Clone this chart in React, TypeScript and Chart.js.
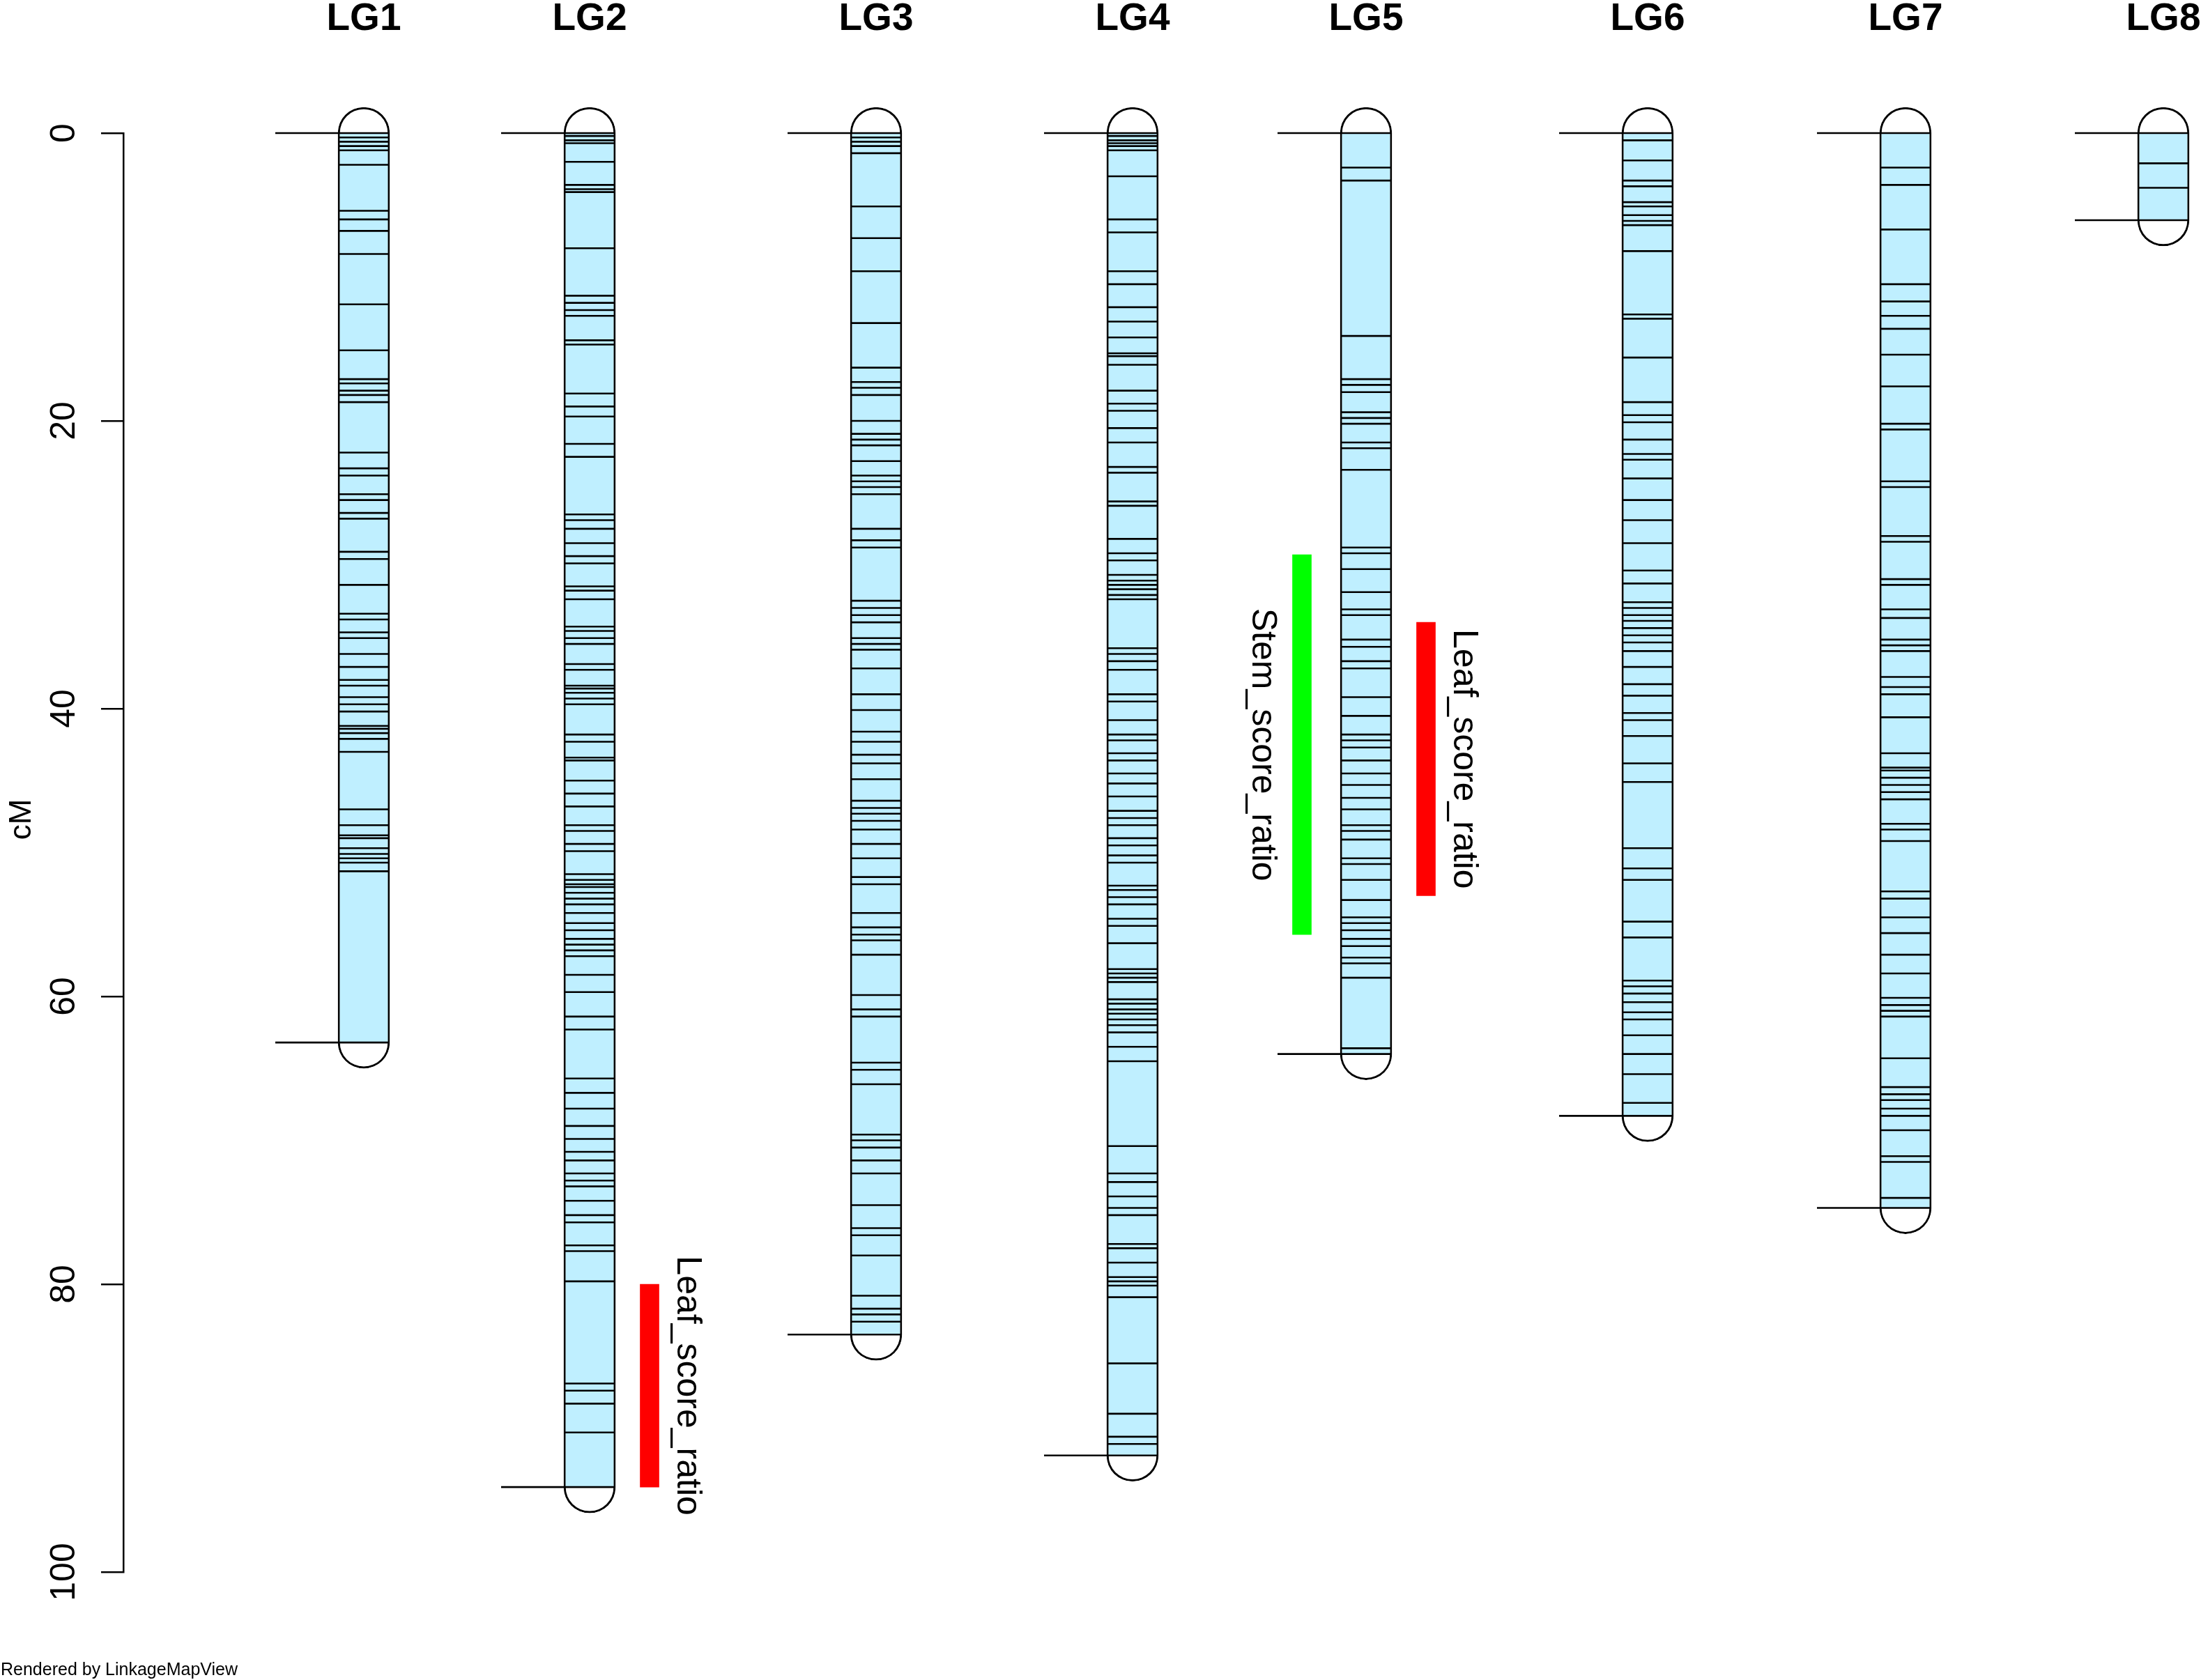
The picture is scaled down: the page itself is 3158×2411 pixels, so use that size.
import { useEffect, useRef } from 'react';
import { Chart, registerables } from 'chart.js';

Chart.register(...registerables);

// ---------------- data ----------------
const groupNames = ['LG1', 'LG2', 'LG3', 'LG4', 'LG5', 'LG6', 'LG7', 'LG8'];
// position of each linkage group along the (hidden) x axis
const groupPos = [3.45, 6.69, 10.8, 14.48, 17.83, 21.87, 25.57, 29.27];

const lg1Markers = [0, 0.3, 0.6, 0.9, 1.2, 2.2, 5.4, 6.0, 6.8, 8.4, 11.9, 15.1, 17.1, 17.4, 17.9, 18.2, 18.7, 22.2, 23.3, 23.8, 25.1, 25.5, 26.4, 26.8, 29.1, 29.6, 31.4, 33.4, 33.8, 34.7, 35.1, 36.2, 37.1, 38.0, 38.4, 39.2, 39.7, 40.2, 41.2, 41.4, 41.7, 42.1, 43.0, 47.0, 48.1, 48.8, 49.0, 49.7, 50.1, 50.4, 50.7, 51.3, 63.2];
const lg2Markers = [0, 0.2, 0.5, 0.7, 2.0, 3.6, 3.9, 4.1, 8.0, 11.3, 11.8, 12.3, 12.7, 14.4, 14.7, 18.1, 19.0, 19.7, 21.6, 22.5, 26.5, 26.9, 27.5, 28.5, 29.4, 29.9, 31.5, 31.8, 32.4, 34.3, 34.6, 35.1, 35.5, 36.9, 37.3, 38.4, 38.6, 38.9, 39.3, 39.7, 41.8, 42.3, 43.4, 43.6, 45.0, 45.9, 46.8, 48.1, 48.5, 49.4, 49.9, 51.5, 51.9, 52.2, 52.4, 52.8, 53.2, 53.6, 54.2, 54.9, 55.4, 56.0, 56.4, 56.8, 57.2, 58.5, 59.7, 61.4, 62.3, 65.7, 66.7, 67.8, 69.0, 69.9, 70.8, 71.4, 72.3, 72.8, 73.2, 74.2, 75.2, 75.7, 77.3, 77.7, 79.8, 86.9, 87.4, 88.3, 90.3, 94.1];
const lg3Markers = [0, 0.3, 0.6, 0.9, 1.4, 5.1, 7.3, 9.6, 13.2, 16.3, 17.3, 17.7, 18.2, 20.0, 20.9, 21.3, 21.7, 22.8, 23.8, 24.2, 24.6, 25.1, 27.5, 28.3, 28.8, 32.5, 33.0, 33.5, 34.0, 35.1, 35.5, 35.9, 37.2, 39.0, 40.1, 41.6, 42.3, 43.2, 43.8, 44.9, 46.4, 46.9, 47.3, 47.8, 48.4, 49.4, 50.4, 51.7, 52.2, 54.2, 55.2, 55.7, 56.1, 57.1, 59.9, 60.9, 61.4, 64.6, 65.1, 66.1, 69.6, 70.0, 70.5, 71.4, 72.3, 74.5, 76.1, 76.6, 78.0, 80.8, 81.7, 82.1, 82.6, 83.5];
const lg4Markers = [0, 0.2, 0.5, 0.7, 0.9, 1.2, 3.0, 6.0, 6.9, 9.6, 10.5, 12.1, 13.1, 14.2, 15.3, 15.5, 16.1, 17.9, 18.8, 19.3, 20.5, 21.5, 23.2, 23.6, 25.6, 25.9, 28.2, 29.2, 29.7, 30.7, 31.1, 31.4, 31.7, 32.1, 32.4, 35.8, 36.2, 36.7, 37.3, 39.0, 39.5, 40.8, 41.8, 42.2, 43.1, 43.6, 44.5, 45.2, 46.1, 47.1, 47.6, 48.1, 49.0, 49.5, 50.2, 50.7, 52.3, 52.6, 53.1, 53.6, 54.6, 55.1, 56.3, 58.1, 58.4, 58.7, 59.0, 60.2, 60.5, 60.9, 61.2, 61.6, 62.0, 62.5, 63.5, 64.5, 70.4, 72.3, 72.9, 73.9, 74.7, 75.2, 77.2, 77.5, 78.5, 79.5, 79.8, 80.1, 80.9, 85.5, 89.0, 90.6, 91.1, 91.9];
const lg5Markers = [0, 2.4, 3.3, 14.1, 17.1, 17.5, 18.0, 19.4, 19.8, 20.2, 21.5, 21.9, 23.4, 28.8, 29.2, 30.3, 31.9, 33.1, 33.5, 35.2, 35.7, 36.7, 37.2, 39.2, 40.5, 41.8, 42.2, 42.7, 43.6, 44.5, 45.3, 46.2, 47.0, 48.1, 48.5, 49.1, 50.4, 50.8, 51.9, 53.3, 54.5, 54.9, 55.4, 56.0, 56.5, 57.3, 57.7, 58.7, 63.6, 64.0];
const lg6Markers = [0, 0.5, 1.9, 3.3, 3.7, 4.8, 5.1, 5.7, 6.1, 6.4, 8.2, 12.6, 12.9, 15.6, 18.7, 19.6, 20.1, 21.3, 22.3, 22.7, 24.0, 25.5, 26.9, 28.5, 30.4, 31.3, 32.6, 33.0, 33.5, 33.9, 34.4, 34.9, 35.4, 36.0, 37.1, 38.3, 39.1, 40.3, 40.8, 41.9, 43.8, 45.1, 49.7, 51.1, 51.9, 54.8, 55.9, 58.9, 59.3, 59.8, 60.4, 61.1, 61.6, 62.7, 64.0, 65.4, 67.4, 68.3];
const lg7Markers = [0, 2.4, 3.6, 6.7, 10.5, 11.7, 12.7, 13.6, 15.4, 17.6, 20.2, 20.6, 24.2, 24.6, 28.0, 28.4, 31.0, 31.4, 33.1, 33.7, 35.2, 35.6, 36.0, 37.8, 38.5, 39.0, 40.6, 43.1, 44.1, 44.3, 44.8, 45.3, 45.8, 46.3, 48.0, 48.4, 49.2, 52.7, 53.2, 54.5, 55.6, 57.1, 58.4, 60.1, 60.6, 61.0, 61.4, 64.3, 66.3, 66.8, 67.2, 67.8, 68.3, 69.3, 71.1, 71.5, 74.0, 74.7];
const lg8Markers = [0, 2.1, 3.8, 6.05];

const markerSets = [lg1Markers, lg2Markers, lg3Markers, lg4Markers, lg5Markers, lg6Markers, lg7Markers, lg8Markers];

const qtlGroup = ['LG2', 'LG5', 'LG5'];
const qtlName = ['Leaf_score_ratio', 'Stem_score_ratio', 'Leaf_score_ratio'];
const qtlStart = [80.0, 29.3, 34.0];
const qtlEnd = [94.1, 55.7, 53.0];
const qtlColor = ['#FF0000', '#00FF00', '#FF0000'];
const qtlSide = ['right', 'left', 'right'];

const yTicks = [0, 20, 40, 60, 80, 100];
const yTitle = 'cM';
const footerText = 'Rendered by LinkageMapView';

// ---------------- layout ----------------
const W = 3158;
const H = 2411;
const PAD_TOP = 191;
const PAD_BOTTOM = 155;
const PAD_RIGHT = 40;
const AXIS_W = 177;
const PX_PER_CM = (H - PAD_TOP - PAD_BOTTOM) / 100;
const CHROM_W = 74;
const CAP_CM = CHROM_W / 2 / PX_PER_CM;
const X_MAX = (W - AXIS_W - PAD_RIGHT) / 100;
const HALF_U = 0.37;
const TICK_FROM_U = 1.27;
const QTL_RIGHT_U = 0.86;
const QTL_LEFT_U = -0.92;
const FONT = '"Liberation Sans", Arial, Helvetica, sans-serif';

const lengths = markerSets.map((m) => m[m.length - 1]);

function buildConfig(): any {
  const markerData = markerSets.flatMap((m, i) => m.map((v) => ({ x: groupPos[i], y: v })));
  const endData: any[] = [];
  groupPos.forEach((p, i) => {
    [0, lengths[i]].forEach((v) => {
      endData.push({ x: p - TICK_FROM_U, y: v }, { x: p - HALF_U, y: v }, { x: p, y: null });
    });
  });
  const qtlData = qtlGroup.map((g, j) => {
    const i = groupNames.indexOf(g);
    const off = qtlSide[j] === 'right' ? QTL_RIGHT_U : QTL_LEFT_U;
    return { x: groupPos[i] + off, y: [qtlStart[j], qtlEnd[j]] };
  });
  const chromData = groupPos.map((p, i) => ({ x: p, y: [0, lengths[i]] }));
  const capData = groupPos.map((p, i) => ({ x: p, y: [-CAP_CM, lengths[i] + CAP_CM] }));

  const textPlugin = {
    id: 'mapText',
    afterDraw(chart: any) {
      const { ctx, scales } = chart;
      const xs = scales.x;
      const ys = scales.y;
      ctx.save();
      ctx.fillStyle = '#000';

      // group titles
      ctx.font = `bold 55px ${FONT}`;
      ctx.textAlign = 'center';
      ctx.textBaseline = 'alphabetic';
      groupNames.forEach((n, i) => {
        ctx.fillText(n, xs.getPixelForValue(groupPos[i]), 43);
      });

      // y tick labels (rotated)
      ctx.font = `50px ${FONT}`;
      yTicks.forEach((v) => {
        const py = ys.getPixelForValue(v);
        ctx.save();
        ctx.translate(ys.right - 70, py);
        ctx.rotate(-Math.PI / 2);
        ctx.textAlign = 'center';
        ctx.textBaseline = 'alphabetic';
        ctx.fillText(String(v), 0, 0);
        ctx.restore();
      });

      // y title
      ctx.save();
      ctx.font = `44px ${FONT}`;
      ctx.translate(44, 1176);
      ctx.rotate(-Math.PI / 2);
      ctx.textAlign = 'center';
      ctx.textBaseline = 'alphabetic';
      ctx.fillText(yTitle, 0, 0);
      ctx.restore();

      // QTL labels
      const meta = chart.getDatasetMeta(2);
      ctx.font = `50px ${FONT}`;
      qtlName.forEach((name, j) => {
        const el = meta.data[j];
        if (!el) return;
        const { x, width } = el.getProps(['x', 'width'], true);
        const yMid = (ys.getPixelForValue(qtlStart[j]) + ys.getPixelForValue(qtlEnd[j])) / 2;
        const bx = qtlSide[j] === 'right' ? x + width / 2 + 26 : x - width / 2 - 58;
        ctx.save();
        ctx.translate(bx, yMid);
        ctx.rotate(Math.PI / 2);
        ctx.textAlign = 'center';
        ctx.textBaseline = 'alphabetic';
        ctx.fillText(name, 0, 0);
        ctx.restore();
      });

      // footer
      ctx.font = `25px ${FONT}`;
      ctx.textAlign = 'left';
      ctx.textBaseline = 'alphabetic';
      ctx.fillText(footerText, 1, 2404);
      ctx.restore();
    },
  };

  return {
    type: 'bar',
    data: {
      datasets: [
        {
          type: 'scatter',
          label: 'markers',
          data: markerData,
          pointStyle: 'line',
          pointRadius: 36,
          pointHoverRadius: 36,
          pointBorderWidth: 2.6,
          pointBorderColor: '#000',
          pointBackgroundColor: '#000',
          order: 0,
          clip: false,
        },
        {
          type: 'line',
          label: 'ends',
          data: endData,
          borderColor: '#000',
          borderWidth: 2.6,
          pointRadius: 0,
          pointHoverRadius: 0,
          spanGaps: false,
          fill: false,
          order: 0,
          clip: false,
        },
        {
          type: 'bar',
          label: 'qtl',
          data: qtlData,
          backgroundColor: qtlColor,
          borderWidth: 0,
          barThickness: 27,
          grouped: false,
          order: 0,
          clip: false,
        },
        {
          type: 'bar',
          label: 'chrom',
          data: chromData,
          backgroundColor: '#BFEFFF',
          borderWidth: 0,
          barThickness: CHROM_W - 6,
          grouped: false,
          order: 1,
          clip: false,
        },
        {
          type: 'bar',
          label: 'caps',
          data: capData,
          backgroundColor: '#FFFFFF',
          borderColor: '#000',
          borderWidth: 3,
          borderSkipped: false,
          borderRadius: { topLeft: 40, topRight: 40, bottomLeft: 40, bottomRight: 40 },
          barThickness: CHROM_W,
          grouped: false,
          order: 2,
          clip: false,
        },
      ],
    },
    options: {
      responsive: false,
      maintainAspectRatio: false,
      animation: false,
      devicePixelRatio: 1,
      events: [],
      layout: { padding: { top: PAD_TOP, bottom: PAD_BOTTOM, left: 0, right: PAD_RIGHT } },
      plugins: { legend: { display: false }, tooltip: { enabled: false } },
      scales: {
        x: {
          type: 'linear',
          display: false,
          min: 0,
          max: X_MAX,
          offset: false,
        },
        y: {
          type: 'linear',
          min: 0,
          max: 100,
          reverse: true,
          position: 'left',
          afterFit: (s: any) => {
            s.width = AXIS_W;
          },
          ticks: { display: false, stepSize: 20 },
          grid: {
            display: true,
            drawOnChartArea: false,
            drawTicks: true,
            tickLength: 32,
            color: '#000',
            lineWidth: 2.5,
          },
          border: { display: true, color: '#000', width: 2.5 },
        },
      },
    },
    plugins: [textPlugin],
  };
}

export default function App() {
  const ref = useRef<HTMLCanvasElement>(null);
  useEffect(() => {
    if (!ref.current) return;
    const chart = new Chart(ref.current, buildConfig());
    return () => chart.destroy();
  }, []);
  return (
    <div style={{ position: 'fixed', left: 0, top: 0, width: W, height: H, background: '#fff' }}>
      <canvas ref={ref} width={W} height={H} style={{ width: W, height: H, display: 'block' }} />
    </div>
  );
}
